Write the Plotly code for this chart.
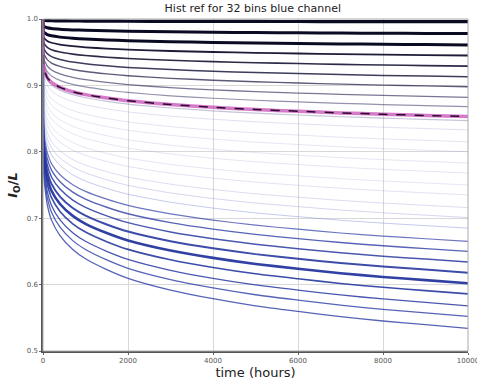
import plotly.graph_objects as go

# time points (hours)
times = [0, 1, 5, 10, 25, 50, 100, 200, 400, 700, 1000, 1500, 2000, 3000,
         4000, 5000, 6000, 7000, 8000, 9000, 10000]
# fraction of the final drop reached at each time
drop_profile = [0.0, 0.36, 0.43, 0.47, 0.52, 0.55, 0.60, 0.65, 0.70, 0.745,
                0.775, 0.81, 0.838, 0.876, 0.904, 0.927, 0.945, 0.962, 0.976, 0.988, 1.0]

# value of each curve at t = 10000 h
end_values = [0.996, 0.978, 0.961, 0.945, 0.929, 0.913, 0.898, 0.882, 0.868, 0.847,
              0.833, 0.815, 0.800, 0.783, 0.768, 0.750, 0.735, 0.716, 0.701, 0.685,
              0.665, 0.650, 0.634, 0.618, 0.602, 0.586, 0.568, 0.552, 0.534]
line_colors = ["rgba(10,10,34,1)", "rgba(10,10,34,1)", "rgba(10,10,34,1)",
               "rgba(16,16,44,0.95)", "rgba(20,20,52,0.9)", "rgba(26,26,62,0.85)",
               "rgba(36,36,76,0.75)", "rgba(46,46,90,0.65)", "rgba(56,56,105,0.55)",
               "rgba(90,90,150,0.35)",
               "rgba(130,130,190,0.25)", "rgba(130,130,190,0.22)", "rgba(130,130,190,0.2)",
               "rgba(130,130,195,0.2)", "rgba(130,130,195,0.2)", "rgba(130,130,200,0.2)",
               "rgba(120,125,200,0.22)", "rgba(110,120,200,0.25)", "rgba(100,110,200,0.28)",
               "rgba(90,100,200,0.35)",
               "rgba(45,60,165,0.7)", "rgba(45,60,165,0.8)", "rgba(42,58,160,0.85)",
               "rgba(40,56,160,0.9)", "rgba(38,54,158,0.95)", "rgba(40,56,160,0.9)",
               "rgba(42,58,162,0.85)", "rgba(44,60,165,0.8)", "rgba(44,60,165,0.8)"]
line_widths = [3.2, 3.0, 3.0, 1.8, 1.6, 1.5, 1.4, 1.3, 1.2, 1.2,
               1.0, 1.0, 1.0, 1.0, 1.0, 1.0, 1.0, 1.0, 1.0, 1.0,
               1.2, 1.4, 1.5, 2.0, 2.6, 1.6, 1.3, 1.3, 1.3]

# highlighted reference curve (value at t = 10000 h)
ref_end = 0.853

x_ticks = [0, 2000, 4000, 6000, 8000, 10000]
x_tick_labels = ["0", "2000", "4000", "6000", "8000", "10000"]
y_ticks = [0.5, 0.6, 0.7, 0.8, 0.9, 1.0]
y_tick_labels = ["0.5", "0.6", "0.7", "0.8", "0.9", "1.0"]

fig = go.Figure()
for ev, col, w in zip(end_values, line_colors, line_widths):
    ys = [1 - (1 - ev) * f for f in drop_profile]
    fig.add_trace(go.Scatter(x=times, y=ys, mode="lines",
                             line=dict(color=col, width=w, shape="spline", smoothing=0.6),
                             showlegend=False, hoverinfo="skip"))

ref_y = [1 - (1 - ref_end) * f for f in drop_profile]
fig.add_trace(go.Scatter(x=times, y=ref_y, mode="lines",
                         line=dict(color="rgba(190,50,170,0.65)", width=3.5, shape="spline", smoothing=0.6),
                         showlegend=False, hoverinfo="skip"))
fig.add_trace(go.Scatter(x=times, y=ref_y, mode="lines",
                         line=dict(color="rgba(40,10,45,1)", width=1.5, dash="dash", shape="spline", smoothing=0.6),
                         showlegend=False, hoverinfo="skip"))

fig.add_shape(type="rect", xref="paper", yref="paper", x0=0, x1=1, y0=0, y1=1,
              line=dict(color="#aaaaaa", width=1), layer="above")

fig.update_layout(
    width=477, height=383,
    margin=dict(l=43, r=9, t=19, b=32),
    paper_bgcolor="white", plot_bgcolor="white",
    font=dict(family="DejaVu Sans", color="#333"),
    title=dict(text="Hist ref for 32 bins blue channel", x=0.53, xanchor="center",
               y=0.99, yanchor="top", font=dict(size=11, color="#222"), automargin=False),
    xaxis=dict(range=[0, 10000], tickvals=x_ticks, ticktext=x_tick_labels,
               tickfont=dict(size=7, color="#555"), showgrid=True, gridcolor="#d8d8d8",
               gridwidth=1, zeroline=False, showline=True, linecolor="#555", linewidth=1.5,
               ticks="outside", ticklen=2, tickcolor="#666", automargin=False,
               ticklabeloverflow="allow",
               title=dict(text="time (hours)", font=dict(size=13, color="#222"), standoff=4)),
    yaxis=dict(range=[0.5, 1.0], tickvals=y_ticks, ticktext=y_tick_labels,
               tickfont=dict(size=7, color="#555"), showgrid=True, gridcolor="#d8d8d8",
               gridwidth=1, zeroline=False, showline=True, linecolor="#555", linewidth=1.5,
               ticks="outside", ticklen=2, tickcolor="#666", automargin=False,
               ticklabeloverflow="allow",
               title=dict(text="<b><i>I</i><sub>O</sub>/<i>L</i></b>", font=dict(size=13, color="#222"),
                          standoff=6)),
)

fig.write_html("out.html", config={"displayModeBar": False},
               post_script="document.body.style.margin='0px';")
